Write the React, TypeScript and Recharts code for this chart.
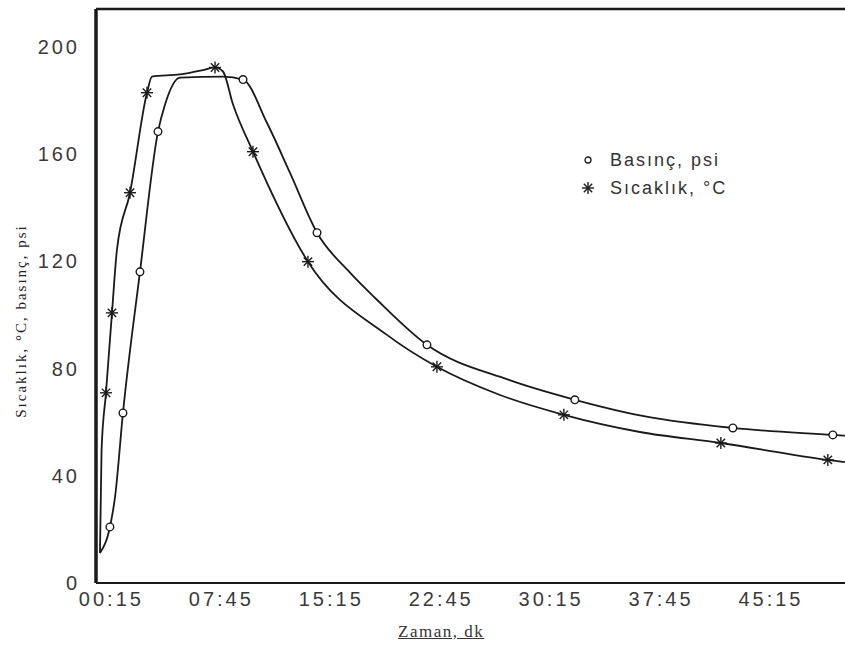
import { Legend, Line, LineChart, ReferenceLine, XAxis, YAxis } from "recharts";

// time in minutes
const pressureTimes = [-0.53, 0.15, 0.5, 1.04, 2.2, 3.43, 3.91, 4.93, 7.86, 9.23, 10.86, 12.43, 14.28, 16.53, 18.37, 21.78, 27.37, 31.87, 36.85, 42.65, 49.47, 50.29];
const pressureValues = [11.2, 20.9, 32.1, 63.4, 116, 168.3, 178.4, 188.4, 188.8, 187.7, 171.6, 153, 130.6, 115.7, 105.6, 88.8, 75.7, 68.3, 61.9, 57.8, 55.2, 54.9];
const pressureMarked = [false, true, false, true, true, true, false, false, false, true, false, false, true, false, false, true, false, true, false, true, true, false];

const tempTimes = [-0.53, -0.42, -0.12, 0.29, 0.63, 1.52, 2.68, 3.02, 4.93, 6.64, 7.32, 7.86, 8.55, 9.91, 13.66, 19.05, 22.46, 26.76, 31.12, 36.31, 41.83, 49.13, 50.29];
const tempValues = [11.2, 49.6, 70.9, 100.7, 124.3, 145.5, 182.8, 188.8, 189.6, 191.4, 192.2, 190.7, 178.4, 160.8, 119.8, 92.5, 80.6, 70.1, 62.7, 56.3, 52.2, 45.9, 45.1];
const tempMarked = [false, false, true, true, false, true, true, false, false, false, true, false, false, true, true, false, true, false, true, false, true, true, false];

const xTicks = [0.25, 7.75, 15.25, 22.75, 30.25, 37.75, 45.25];
const xTickLabels = ["00:15", "07:45", "15:15", "22:45", "30:15", "37:45", "45:15"];
const yTicks = [0, 40, 80, 120, 160, 200];

const pressureData = pressureTimes.map((t, i) => ({ t, v: pressureValues[i], marked: pressureMarked[i] }));
const tempData = tempTimes.map((t, i) => ({ t, v: tempValues[i], marked: tempMarked[i] }));

const INK = "#1a1a1a";
const TICK_FONT = { fill: "#3a3a3a", fontSize: 20, fontFamily: "'Liberation Sans', Arial, sans-serif", letterSpacing: 3 };

const Circle = ({ cx, cy }: { cx: number; cy: number }) => (
  <circle cx={cx} cy={cy} r={3.8} fill="#fff" stroke={INK} strokeWidth={1.4} />
);

const Star = ({ cx, cy }: { cx: number; cy: number }) => {
  const s = 6;
  const d = 4.2;
  return (
    <g stroke={INK} strokeWidth={1.4}>
      <line x1={cx - s} y1={cy} x2={cx + s} y2={cy} />
      <line x1={cx} y1={cy - s} x2={cx} y2={cy + s} />
      <line x1={cx - d} y1={cy - d} x2={cx + d} y2={cy + d} />
      <line x1={cx - d} y1={cy + d} x2={cx + d} y2={cy - d} />
    </g>
  );
};

const pressureDot = (props: any) => {
  const { cx, cy, index, payload } = props;
  if (!payload?.marked) return <g key={`p${index}`} />;
  return <Circle key={`p${index}`} cx={cx} cy={cy} />;
};

const tempDot = (props: any) => {
  const { cx, cy, index, payload } = props;
  if (!payload?.marked) return <g key={`s${index}`} />;
  return <Star key={`s${index}`} cx={cx} cy={cy} />;
};

const ChartLegend = () => (
  <div style={{ fontFamily: "'Liberation Sans', Arial, sans-serif", fontSize: 18, letterSpacing: 2, color: "#333", lineHeight: "28px" }}>
    <div style={{ display: "flex", alignItems: "center" }}>
      <svg width={32} height={14}>
        <circle cx={10} cy={7} r={3} fill="#fff" stroke={INK} strokeWidth={1.3} />
      </svg>
      <span>Basınç, psi</span>
    </div>
    <div style={{ display: "flex", alignItems: "center" }}>
      <svg width={32} height={14}>
        <Star cx={10} cy={7} />
      </svg>
      <span>Sıcaklık, °C</span>
    </div>
  </div>
);

export default function App() {
  return (
    <div style={{ position: "absolute", left: 0, top: 0, width: 845, height: 650, background: "#fff" }}>
      <LineChart width={845} height={650} margin={{ top: 9, right: 0, bottom: 27, left: 36 }}>
        <XAxis
          dataKey="t"
          type="number"
          domain={[-0.8, 50.3]}
          ticks={xTicks}
          tickFormatter={(value) => xTickLabels[xTicks.indexOf(value)] ?? ""}
          allowDataOverflow
          height={40}
          tickLine={false}
          tickSize={0}
          tickMargin={9}
          axisLine={{ stroke: INK, strokeWidth: 2 }}
          tick={TICK_FONT}
        />
        <YAxis
          type="number"
          domain={[0, 214]}
          ticks={yTicks}
          allowDataOverflow
          width={60}
          tickLine={false}
          tickSize={0}
          tickMargin={16}
          axisLine={{ stroke: INK, strokeWidth: 3.5 }}
          tick={TICK_FONT}
        />
        <ReferenceLine y={214} stroke={INK} strokeWidth={2.5} />
        <Legend
          layout="vertical"
          align="center"
          verticalAlign="middle"
          content={<ChartLegend />}
          wrapperStyle={{ left: 578, top: 146, width: "auto", bottom: "auto" }}
        />
        <Line
          data={pressureData}
          dataKey="v"
          name="Basınç, psi"
          type="monotone"
          stroke={INK}
          strokeWidth={1.8}
          dot={pressureDot}
          activeDot={false}
          isAnimationActive={false}
        />
        <Line
          data={tempData}
          dataKey="v"
          name="Sıcaklık, °C"
          type="monotone"
          stroke={INK}
          strokeWidth={1.8}
          dot={tempDot}
          activeDot={false}
          isAnimationActive={false}
        />
      </LineChart>
      <div
        style={{
          position: "absolute",
          left: 398,
          top: 622,
          fontFamily: "'Liberation Serif', 'Times New Roman', serif",
          fontSize: 17,
          letterSpacing: 1.5,
          color: "#333",
          textDecoration: "underline",
        }}
      >
        Zaman, dk
      </div>
      <div
        style={{
          position: "absolute",
          left: 21,
          top: 321,
          transform: "translate(-50%, -50%) rotate(-90deg)",
          whiteSpace: "nowrap",
          fontFamily: "'Liberation Serif', 'Times New Roman', serif",
          fontSize: 15,
          letterSpacing: 2,
          color: "#222",
        }}
      >
        Sıcaklık, °C, basınç, psi
      </div>
    </div>
  );
}
